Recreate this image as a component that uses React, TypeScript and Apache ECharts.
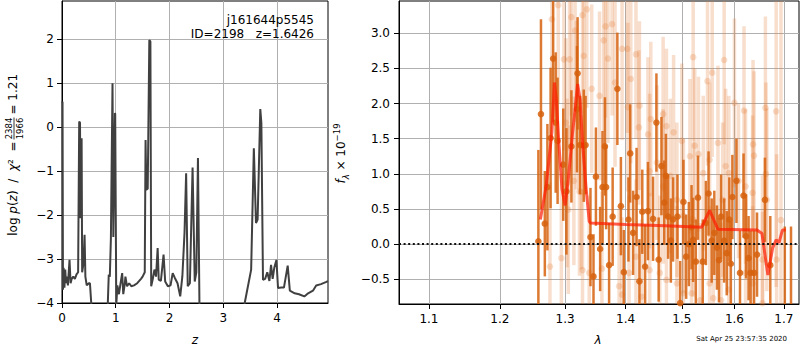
import React, { useEffect, useRef } from 'react';
import * as echarts from 'echarts';

const FONT = 'DejaVu Sans';

// ---- left panel: p(z) ----
const zGrid = [0.000, 0.010, 0.018, 0.030, 0.045, 0.060, 0.075, 0.090, 0.110, 0.140, 0.160, 0.180, 0.210, 0.240, 0.270, 0.300, 0.320, 0.335, 0.345, 0.365, 0.375, 0.400, 0.420, 0.435, 0.460, 0.500, 0.520, 0.560, 0.600, 0.800, 0.850, 0.870, 0.890, 0.910, 0.940, 0.955, 0.985, 0.990, 1.010, 1.030, 1.060, 1.090, 1.120, 1.140, 1.170, 1.180, 1.210, 1.250, 1.290, 1.340, 1.400, 1.470, 1.500, 1.540, 1.555, 1.570, 1.595, 1.625, 1.645, 1.660, 1.690, 1.720, 1.750, 1.780, 1.800, 1.840, 1.890, 1.920, 1.970, 2.020, 2.060, 2.100, 2.150, 2.200, 2.240, 2.280, 2.310, 2.340, 2.380, 2.430, 2.470, 2.500, 2.530, 2.560, 2.600, 3.300, 3.400, 3.520, 3.570, 3.610, 3.640, 3.690, 3.710, 3.740, 3.780, 3.820, 3.860, 3.890, 3.920, 3.950, 3.990, 4.020, 4.080, 4.130, 4.200, 4.240, 4.330, 4.410, 4.510, 4.580, 4.670, 4.730, 4.820, 4.920, 4.950];
const logPz = [0.55, 0.58, -3.70, -3.20, -3.65, -3.24, -3.55, -3.40, -3.60, -3.02, -3.55, -3.45, -3.40, -3.45, -3.35, -3.30, 0.13, 0.10, -2.07, -0.25, -3.30, -3.10, -2.45, -3.40, -3.60, -3.55, -3.55, -4.30, -6.00, -6.00, -4.10, -3.36, -3.40, -2.52, 1.00, -2.50, 0.32, 0.30, -4.05, -3.60, -3.80, -3.55, -3.32, -3.80, -3.55, -3.40, -3.62, -3.55, -3.62, -3.60, -3.55, -3.45, -3.40, -3.30, -0.29, -1.42, -1.40, 1.98, 1.95, -3.62, -3.45, -3.24, -3.40, -2.75, -3.47, -3.50, -2.90, -3.51, -3.62, -3.60, -3.32, -3.43, -3.55, -3.85, -3.39, -2.40, -1.05, -3.62, -3.55, -0.92, -3.51, -3.30, -0.70, -4.30, -6.00, -6.00, -4.00, -3.24, -0.48, -2.18, -2.10, 0.41, 0.10, -3.47, -3.45, -3.30, -3.50, -3.13, -3.45, -3.20, -3.02, -3.66, -3.65, -3.65, -3.15, -3.72, -3.78, -3.80, -3.85, -3.78, -3.72, -3.60, -3.57, -3.52, -3.50];
const pzXTicks = [0, 1, 2, 3, 4];
const pzYTicks = [-4, -3, -2, -1, 0, 1, 2];
const zMin = 0, zMax = 4.95, pMin = -4, pMax = 2.87;
const title1 = 'j161644p5545';
const title2 = 'ID=2198   z=1.6426';

// ---- right panel: spectrum ----
const darkLam = [1.258, 1.262, 1.268, 1.272, 1.277, 1.281, 1.285, 1.288, 1.297, 1.302, 1.310, 1.319, 1.320, 1.324, 1.330, 1.333, 1.341, 1.346, 1.350, 1.357, 1.361, 1.365, 1.367, 1.372, 1.378, 1.386, 1.392, 1.397, 1.405, 1.408, 1.413, 1.419, 1.424, 1.429, 1.434, 1.439, 1.448, 1.454, 1.458, 1.463, 1.468, 1.471, 1.475, 1.480, 1.484, 1.492, 1.497, 1.503, 1.508, 1.513, 1.518, 1.521, 1.526, 1.530, 1.539, 1.545, 1.550, 1.556, 1.561, 1.566, 1.570, 1.574, 1.580, 1.585, 1.590, 1.593, 1.596, 1.604, 1.611, 1.618, 1.623, 1.628, 1.632, 1.639, 1.645, 1.661, 1.672, 1.702, 1.715];
const darkFlux = [0.04, 1.85, 0.29, 0.81, 1.51, 2.64, 1.73, 1.47, 1.13, 0.75, 1.39, 1.92, 2.43, 1.41, 1.40, 1.41, 0.10, -0.46, 0.96, -0.07, 0.81, 1.39, 0.81, -0.30, 0.39, 2.21, 0.54, -0.40, 0.35, 1.29, 0.16, 0.67, -0.53, 0.46, -0.32, 0.47, 0.36, 1.73, -0.22, 1.11, 0.59, 0.97, 0.39, 0.05, 0.35, 0.39, -0.84, 0.60, -0.18, 0.00, 0.24, 0.06, -0.25, 0.66, -0.25, 0.30, 0.72, 0.05, 0.16, -0.05, -0.23, 0.39, 0.05, -0.13, 0.35, -0.28, 0.67, 0.90, -0.41, 0.69, 0.11, -0.20, -0.41, -0.41, -0.15, 0.63, -0.30, -1.20, -1.20];
const darkErr = [1.30, 1.35, 0.75, 0.90, 1.00, 0.90, 1.00, 0.90, 0.80, 0.90, 0.80, 0.90, 0.80, 0.70, 0.80, 0.70, 0.70, 0.60, 0.70, 0.60, 0.80, 0.70, 0.60, 0.60, 0.70, 0.80, 0.70, 0.60, 0.60, 0.70, 0.60, 0.70, 0.60, 0.60, 0.60, 0.70, 0.60, 0.70, 0.60, 0.70, 0.60, 0.60, 0.60, 0.60, 0.60, 0.60, 0.60, 0.60, 0.60, 0.60, 0.60, 0.60, 0.60, 0.60, 0.60, 0.60, 0.60, 0.60, 0.60, 0.60, 0.60, 0.60, 0.60, 0.60, 0.60, 0.60, 0.60, 0.60, 0.60, 0.60, 0.60, 0.60, 0.60, 0.60, 0.60, 0.60, 0.70, 1.45, 1.45];

const lightLam = [1.276, 1.279, 1.289, 1.294, 1.298, 1.301, 1.303, 1.305, 1.307, 1.310, 1.314, 1.316, 1.318, 1.323, 1.326, 1.328, 1.330, 1.328, 1.335, 1.339, 1.343, 1.356, 1.360, 1.363, 1.366, 1.370, 1.377, 1.382, 1.389, 1.394, 1.394, 1.403, 1.404, 1.406, 1.409, 1.418, 1.418, 1.423, 1.424, 1.428, 1.439, 1.442, 1.442, 1.444, 1.455, 1.460, 1.466, 1.466, 1.472, 1.472, 1.479, 1.485, 1.491, 1.491, 1.500, 1.503, 1.503, 1.515, 1.518, 1.521, 1.521, 1.524, 1.531, 1.534, 1.540, 1.548, 1.552, 1.552, 1.557, 1.559, 1.568, 1.574, 1.577, 1.580, 1.583, 1.589, 1.589, 1.600, 1.608, 1.619, 1.622, 1.622, 1.636, 1.636, 1.637, 1.639, 1.656, 1.656, 1.662, 1.663, 1.665, 1.684, 1.685, 1.694];
const lightFlux = [-0.32, 3.20, 3.40, -0.20, 2.63, 1.73, 0.87, 0.49, 2.63, 3.23, 0.90, 3.04, 1.98, 0.75, 0.74, 3.26, 2.68, -0.37, 3.34, -0.41, 2.21, 2.11, -0.35, 2.90, 3.10, 2.64, 3.13, 2.30, -0.60, 2.78, -0.72, 2.78, 1.95, -0.41, 2.35, 2.70, -0.18, 1.66, 1.97, -0.75, 1.56, 1.04, -0.37, 1.78, 1.16, -0.41, 1.85, 0.82, 1.68, -0.51, 0.97, 1.59, 0.63, -0.56, 1.47, 0.40, -0.70, 1.25, -0.70, 2.66, 0.35, 1.40, 1.28, -0.80, 1.01, 2.32, 1.20, -0.56, 2.44, -0.77, 1.44, -0.80, 0.63, 2.62, 1.11, 1.01, -0.65, 2.01, 0.90, 1.90, 0.82, -0.41, 0.73, -0.56, 1.42, 1.26, -0.22, -0.84, 1.94, 1.00, 0.63, 1.89, -0.22, 0.34];
const lightErr = [1.2, 1.4, 1.4, 1.2, 1.3, 1.2, 1.2, 1.2, 1.3, 1.4, 1.2, 1.3, 1.2, 1.2, 1.1, 1.4, 1.3, 1.1, 1.4, 1.1, 1.2, 1.2, 1.1, 1.3, 1.3, 1.2, 1.3, 1.2, 1.1, 1.3, 1.1, 1.2, 1.2, 1.1, 1.2, 1.2, 1.1, 1.1, 1.2, 1.1, 1.1, 1.1, 1.1, 1.1, 1.1, 1.1, 1.1, 1.1, 1.1, 1.1, 1.1, 1.1, 1.1, 1.1, 1.1, 1.1, 1.1, 1.1, 1.1, 1.2, 1.1, 1.1, 1.1, 1.1, 1.1, 1.2, 1.1, 1.1, 1.2, 1.1, 1.1, 1.1, 1.1, 1.2, 1.1, 1.1, 1.1, 1.2, 1.1, 1.2, 1.1, 1.1, 1.1, 1.1, 1.2, 1.2, 1.2, 1.3, 1.3, 1.3, 1.3, 2.5, 1.5, 3.2];

const modelLam = [1.261, 1.270, 1.279, 1.283, 1.286, 1.290, 1.295, 1.300, 1.305, 1.312, 1.316, 1.320, 1.324, 1.328, 1.334, 1.339, 1.341, 1.400, 1.470, 1.537, 1.552, 1.568, 1.645, 1.655, 1.667, 1.677, 1.684, 1.690, 1.697, 1.704];
const modelFlux = [0.35, 0.82, 1.59, 2.30, 2.06, 1.44, 0.78, 0.55, 0.92, 1.59, 1.92, 2.28, 2.06, 1.44, 0.78, 0.32, 0.30, 0.28, 0.26, 0.24, 0.48, 0.21, 0.20, 0.15, -0.44, -0.05, 0.06, 0.02, 0.20, 0.20];

const lamTicks = [1.1, 1.2, 1.3, 1.4, 1.5, 1.6, 1.7];
const fluxTicks = [-0.5, 0.0, 0.5, 1.0, 1.5, 2.0, 2.5, 3.0];
const lamMin = 1.0603, lamMax = 1.7319, fMin = -0.853, fMax = 3.46;
const timestamp = 'Sat Apr 25 23:57:35 2020';

const DARK = 'rgba(214,98,14,0.85)';
const LIGHT = 'rgba(226,125,50,0.25)';

const minus = (s: string) => s.replace('-', '\u2212');

function errRenderer(color: string, barWidth: number, radius: number) {
  return (params: any, api: any) => {
    const x = api.value(0), y = api.value(1), e = api.value(2);
    const cs = params.coordSys;
    const p = api.coord([x, y]);
    const top = api.coord([x, y + e]);
    const bot = api.coord([x, y - e]);
    const y1 = Math.max(top[1], cs.y), y2 = Math.min(bot[1], cs.y + cs.height);
    const children: any[] = [];
    if (y2 > y1) children.push({ type: 'line', shape: { x1: p[0], y1, x2: p[0], y2 }, style: { stroke: color, lineWidth: barWidth } });
    if (p[1] >= cs.y && p[1] <= cs.y + cs.height) children.push({ type: 'circle', shape: { cx: p[0], cy: p[1], r: radius }, style: { fill: color } });
    return { type: 'group', children };
  };
}

const axisCommon = {
  axisLine: { show: true, onZero: false, lineStyle: { color: '#000', width: 1 } },
  axisTick: { show: true, length: 5, lineStyle: { color: '#000', width: 1 } },
  splitLine: { show: true, lineStyle: { color: '#b0b0b0', width: 1 } },
};

export default function App() {
  const ref = useRef<HTMLDivElement>(null);
  useEffect(() => {
    document.body.style.margin = '0';
    const chart = echarts.init(ref.current!, null, { renderer: 'svg' });
    const L = (v: number) => Math.log10(v);
    const textStyle = { fontFamily: FONT, fontSize: 12, color: '#000' };
    const option: any = {
      animation: false,
      textStyle: { fontFamily: FONT },
      grid: [
        { left: 62, top: 1, width: 266, height: 302, show: true, borderColor: '#000', borderWidth: 1, backgroundColor: 'transparent' },
        { left: 399, top: 1, width: 400, height: 303, show: true, borderColor: '#000', borderWidth: 1, backgroundColor: 'transparent' },
      ],
      xAxis: [
        {
          type: 'value', gridIndex: 0, min: zMin, max: zMax, ...axisCommon,
          axisTick: { ...axisCommon.axisTick, customValues: pzXTicks },
          axisLabel: { ...textStyle, margin: 9, customValues: pzXTicks, formatter: (v: number) => String(v) },
        },
        {
          type: 'value', gridIndex: 1, min: L(lamMin), max: L(lamMax), ...axisCommon,
          axisTick: { ...axisCommon.axisTick, customValues: lamTicks.map(L) },
          axisLabel: { ...textStyle, margin: 9, customValues: lamTicks.map(L), formatter: (v: number) => Math.pow(10, v).toFixed(1) },
        },
      ],
      yAxis: [
        {
          type: 'value', gridIndex: 0, min: pMin, max: pMax, ...axisCommon,
          axisTick: { ...axisCommon.axisTick, customValues: pzYTicks },
          axisLabel: { ...textStyle, margin: 8, customValues: pzYTicks, formatter: (v: number) => minus(String(v)) },
        },
        {
          type: 'value', gridIndex: 1, min: fMin, max: fMax, ...axisCommon,
          axisTick: { ...axisCommon.axisTick, customValues: fluxTicks },
          axisLabel: { ...textStyle, margin: 9, customValues: fluxTicks, formatter: (v: number) => minus(v.toFixed(1)) },
        },
      ],
      series: [
        {
          type: 'line', xAxisIndex: 0, yAxisIndex: 0, showSymbol: false, symbol: 'none', clip: true,
          data: zGrid.map((z, i) => [z, logPz[i]]),
          lineStyle: { color: '#404040', width: 2 }, z: 5,
        },
        {
          type: 'custom', xAxisIndex: 1, yAxisIndex: 1, renderItem: errRenderer(LIGHT, 3.5, 3.3),
          data: lightLam.map((l, i) => [L(l), lightFlux[i], lightErr[i]]), encode: { x: 0, y: 1 }, z: 3,
        },
        {
          type: 'custom', xAxisIndex: 1, yAxisIndex: 1, renderItem: errRenderer(DARK, 2.5, 3.3),
          data: darkLam.map((l, i) => [L(l), darkFlux[i], darkErr[i]]), encode: { x: 0, y: 1 }, z: 4,
        },
        {
          type: 'line', xAxisIndex: 1, yAxisIndex: 1, showSymbol: false, symbol: 'none',
          data: modelLam.map((l, i) => [L(l), modelFlux[i]]),
          lineStyle: { color: 'rgba(255,25,0,0.7)', width: 3 }, z: 5,
        },
        {
          type: 'line', xAxisIndex: 1, yAxisIndex: 1, showSymbol: false, symbol: 'none',
          data: [[L(lamMin), 0], [L(lamMax), 0]],
          lineStyle: { color: '#111', width: 2, type: [2, 2.6] }, z: 6,
        },
      ],
      graphic: [
        { type: 'text', x: 314, y: 20, style: { text: title1, fontFamily: FONT, fontSize: 12, fill: '#000', align: 'right', textAlign: 'right', verticalAlign: 'middle', textVerticalAlign: 'middle' }, z: 10 },
        { type: 'text', x: 314, y: 34, style: { text: title2, fontFamily: FONT, fontSize: 12, fill: '#000', align: 'right', textAlign: 'right', verticalAlign: 'middle', textVerticalAlign: 'middle' }, z: 10 },
        { type: 'text', x: 195, y: 340, style: { text: 'z', fontFamily: FONT, fontSize: 12, fontStyle: 'italic', fill: '#000', align: 'center', textAlign: 'center', verticalAlign: 'middle', textVerticalAlign: 'middle' } },
        { type: 'text', x: 598, y: 340, style: { text: 'λ', fontFamily: FONT, fontSize: 12, fontStyle: 'italic', fill: '#000', align: 'center', textAlign: 'center', verticalAlign: 'middle', textVerticalAlign: 'middle' } },
        { type: 'text', x: 787, y: 339, style: { text: timestamp, fontFamily: FONT, fontSize: 7, fill: '#000', align: 'right', textAlign: 'right', verticalAlign: 'middle', textVerticalAlign: 'middle' } },
        {
          type: 'group', x: 13, y: 128.5, rotation: Math.PI / 2,
          children: [
            { type: 'text', x: -13, y: 0, style: { text: 'log {i|p}({i|z})  /  {i|χ}²  =', fontFamily: FONT, fontSize: 12, fill: '#000', align: 'right', textAlign: 'right', verticalAlign: 'middle', textVerticalAlign: 'middle', rich: { i: { fontStyle: 'italic', fontFamily: FONT, fontSize: 12 } } } },
            { type: 'text', x: 0, y: -4.5, style: { text: '2384', fontFamily: FONT, fontSize: 8.5, fill: '#000', align: 'center', textAlign: 'center', verticalAlign: 'middle', textVerticalAlign: 'middle' } },
            { type: 'line', shape: { x1: -11, y1: 1, x2: 11, y2: 1 }, style: { stroke: '#000', lineWidth: 0.8 } },
            { type: 'text', x: 0, y: 6.5, style: { text: '1966', fontFamily: FONT, fontSize: 8.5, fill: '#000', align: 'center', textAlign: 'center', verticalAlign: 'middle', textVerticalAlign: 'middle' } },
            { type: 'text', x: 14, y: 0, style: { text: '= 1.21', fontFamily: FONT, fontSize: 12, fill: '#000', align: 'left', textAlign: 'left', verticalAlign: 'middle', textVerticalAlign: 'middle' } },
          ],
        },
        {
          type: 'group', x: 341, y: 153.5, rotation: Math.PI / 2,
          children: [
            { type: 'text', x: 0, y: 0, style: { text: '{i|f}{sub|λ} × 10{sup|−19}', fontFamily: FONT, fontSize: 12, lineHeight: 18, fill: '#000', align: 'center', textAlign: 'center', verticalAlign: 'middle', textVerticalAlign: 'middle', rich: { i: { fontStyle: 'italic', fontFamily: FONT, fontSize: 12, lineHeight: 18 }, sub: { fontFamily: FONT, fontStyle: 'italic', fontSize: 8.5, lineHeight: 9, verticalAlign: 'bottom' }, sup: { fontFamily: FONT, fontSize: 8.5, lineHeight: 9, verticalAlign: 'top' } } } },
          ],
        },
      ],
    };
    chart.setOption(option);
    return () => chart.dispose();
  }, []);
  return <div ref={ref} style={{ width: 800, height: 350 }} />;
}
